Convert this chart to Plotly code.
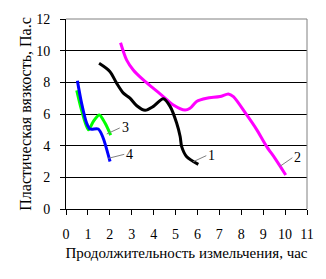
import plotly.graph_objects as go

# Curve 1 (black)
x1 = [1.51, 2.0, 2.31, 2.62, 2.92, 3.23, 3.61, 3.99, 4.44, 4.75, 5.05, 5.21, 5.28, 5.51, 6.04]
y1 = [9.2, 8.69, 7.95, 7.32, 7.0, 6.52, 6.23, 6.48, 6.96, 6.48, 5.43, 4.58, 3.94, 3.3, 2.82]
# Curve 2 (magenta)
x2 = [2.49, 2.77, 3.07, 3.53, 3.99, 4.44, 4.9, 5.43, 5.66, 5.96, 6.42, 7.03, 7.41, 7.64, 8.25, 8.71, 9.16, 9.54, 10.03]
y2 = [10.5, 9.4, 8.78, 8.15, 7.62, 7.1, 6.57, 6.25, 6.36, 6.79, 7.0, 7.1, 7.27, 7.1, 5.94, 5.0, 3.94, 3.2, 2.15]
# Curve 3 (green)
x3 = [0.49, 0.71, 1.02, 1.25, 1.52, 1.78, 2.04]
y3 = [7.49, 6.25, 5.0, 5.53, 5.94, 5.43, 4.67]
# Curve 4 (blue)
x4 = [0.52, 0.71, 0.94, 1.1, 1.47, 1.67, 2.01]
y4 = [8.1, 6.69, 5.43, 5.05, 5.05, 4.58, 3.0]

labels = ["1", "2", "3", "4"]
label_x = [5.81, 9.74, 1.86, 1.93]
label_y = [2.99, 2.67, 4.74, 3.2]

xticks = list(range(0, 12))
yticks = list(range(0, 13, 2))

font = "Liberation Serif"
fig = go.Figure()
for xs, ys, c in [(x2, y2, "#FF00FF"), (x1, y1, "#000000"), (x3, y3, "#00FF00"), (x4, y4, "#0000FF")]:
    fig.add_trace(go.Scatter(x=xs, y=ys, mode="lines", line=dict(color=c, width=3, shape="spline", smoothing=0.8),
                             showlegend=False, hoverinfo="skip"))

offs = [(13, -6), (13, -9), (13, -6), (16, -4)]
for t, lx, ly, (ax, ay) in zip(labels, label_x, label_y, offs):
    fig.add_annotation(x=lx, y=ly, text=t, showarrow=True, arrowhead=0, arrowwidth=1, arrowcolor="#808080",
                       ax=ax, ay=ay, font=dict(family=font, size=14, color="black"), xanchor="left", yanchor="middle")

fig.add_shape(type="line", xref="paper", yref="paper", x0=0, x1=1, y0=1, y1=1, line=dict(color="#808080", width=1), layer="above")
fig.add_shape(type="line", xref="paper", yref="paper", x0=1, x1=1, y0=0, y1=1, line=dict(color="#808080", width=1), layer="above")

fig.update_layout(
    width=326, height=279,
    margin=dict(l=66, r=19, t=19, b=70),
    paper_bgcolor="white", plot_bgcolor="white",
    font=dict(family=font, size=14, color="black"),
    xaxis=dict(range=[0, 11], tickvals=xticks, ticktext=[str(v) for v in xticks], showgrid=False, zeroline=False,
               showline=True, linecolor="black", linewidth=1, ticks="outside", ticklen=5, tickcolor="black",
               ticklabelstandoff=7,
               title=dict(text="Продолжительность измельчения, час", font=dict(family=font, size=15), standoff=6)),
    yaxis=dict(range=[0, 12], tickvals=yticks, ticktext=[str(v) for v in yticks], showgrid=True, gridcolor="black",
               gridwidth=1, zeroline=False, showline=True, linecolor="black", linewidth=1, ticks="outside", ticklen=5,
               tickcolor="black", ticklabelstandoff=7,
               title=dict(text="Пластическая вязкость, Па.с", font=dict(family=font, size=16), standoff=0)),
)
fig.write_html("out.html")
